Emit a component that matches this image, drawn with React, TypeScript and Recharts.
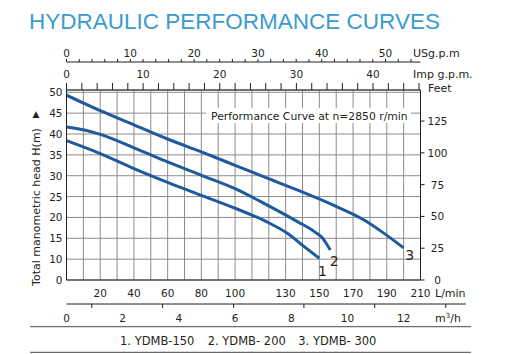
import { LineChart, Line, XAxis, YAxis, CartesianGrid } from "recharts";

// Flow Q in L/min, head H in m (read against the printed left scale)
const flow150 = [0, 20, 40, 60, 80, 100, 118, 131, 141, 150];
const head150 = [38.4, 35.3, 31.7, 28.4, 25.3, 22.2, 19.1, 16.2, 13.0, 10.2];
const flow200 = [0, 10, 20, 40, 60, 80, 100, 118, 137, 147, 152, 154, 156.5];
const head200 = [41.7, 41.0, 39.9, 36.7, 33.3, 30.1, 26.9, 23.2, 19.0, 16.6, 15.0, 13.8, 12.2];
const flow300 = [0, 20, 40, 60, 80, 100, 118, 138, 158, 176, 188, 200];
const head300 = [49.3, 45.6, 42.2, 38.8, 35.7, 32.5, 29.6, 26.4, 23.0, 19.5, 16.3, 12.7];

const modelNames = ["1. YDMB-150", "2. YDMB- 200", "3. YDMB- 300"];
const curveTags = ["1", "2", "3"];

// tick labels
const flowGrid = [0, 10, 20, 30, 40, 50, 60, 70, 80, 90, 100, 110, 120, 130, 140, 150, 160, 170, 180, 190, 200, 210];
const flowLabels = [20, 40, 60, 80, 100, 130, 150, 170, 190, 210];
const headLabels = [0, 10, 15, 20, 25, 30, 35, 40, 45, 50];
const feetLabels = [0, 25, 50, 75, 100, 125];
const usLabels = [0, 10, 20, 30, 40, 50];
const impLabels = [0, 10, 20, 30, 40];
const m3Labels = [0, 2, 4, 6, 8, 10, 12];
const m3Marks = [0.9, 3.42, 5.95, 8.45, 10.97, 13.5];

const LPM_PER_USGPM = 3.785;
const LPM_PER_IMPGPM = 4.546;
const LPM_PER_M3H = 1000 / 60;
const FT_PER_M = 3.2808;
const Q_MAX = 210;
const U_MAX = 45.55;

// printed head scale jumps 0 -> 10, then 5 m per division
const toAxis = (h: number) => (h >= 10 ? h - 5 : h / 2);
const fromAxis = (u: number) => (u >= 5 ? u + 5 : u * 2);

const series = (q: number[], h: number[]) => q.map((v, i) => ({ q: v, u: toAxis(h[i]) }));
const curves = [series(flow150, head150), series(flow200, head200), series(flow300, head300)];
const tagOffsets = [
  [3, 18],
  [4, 16.5],
  [6, 12],
];

const usTicks = Array.from({ length: 28 }, (_, i) => i * 2);
const impTicks = Array.from({ length: 24 }, (_, i) => i * 2);

const INK = "#231f20";
const GRID = "#8c8c8c";
const BLUE = "#1f5a9c";
const FONT = "'DejaVu Sans', sans-serif";

const usTick = ({ x, y, payload }: any) => (
  <g>
    <line x1={x} x2={x} y1={y} y2={y - 3} stroke={INK} />
    {usLabels.includes(payload.value) && (
      <text x={x} y={y - 5.5} textAnchor="middle" fontFamily={FONT} fontSize={10.5} fill={INK}>
        {payload.value}
      </text>
    )}
  </g>
);

const impTick = ({ x, y, payload }: any) => (
  <g>
    <line x1={x} x2={x} y1={y} y2={y - 7} stroke={INK} />
    {impLabels.includes(payload.value) && (
      <text x={x} y={y - 12} textAnchor="middle" fontFamily={FONT} fontSize={10.5} fill={INK}>
        {payload.value}
      </text>
    )}
  </g>
);

const flowTick = ({ x, y, payload }: any) =>
  flowLabels.includes(payload.value) ? (
    <text x={x} y={y + 17} textAnchor="middle" fontFamily={FONT} fontSize={10.5} fill={INK}>
      {payload.value}
    </text>
  ) : (
    <g />
  );

const m3Tick = ({ x, y, payload }: any) =>
  m3Labels.includes(payload.value) ? (
    <text x={x} y={y + 17.5} textAnchor="middle" fontFamily={FONT} fontSize={10.5} fill={INK}>
      {payload.value}
    </text>
  ) : (
    <line x1={x} x2={x} y1={y} y2={y + 4} stroke={INK} />
  );

const headTick = ({ x, y, payload }: any) => (
  <text x={x - 4} y={y + 4} textAnchor="end" fontFamily={FONT} fontSize={10.5} fill={INK}>
    {fromAxis(payload.value)}
  </text>
);

const feetTick = ({ x, y, payload }: any) => (
  <g>
    <line x1={x} x2={x + 4} y1={y} y2={y} stroke={INK} />
    <text x={x + 17} y={y + 4} textAnchor="middle" fontFamily={FONT} fontSize={10.5} fill={INK}>
      {payload.value}
    </text>
  </g>
);

const tagDot = (k: number) => (p: any) =>
  p.index === curves[k].length - 1 ? (
    <text
      key={p.index}
      x={p.cx + tagOffsets[k][0]}
      y={p.cy + tagOffsets[k][1]}
      textAnchor="middle"
      fontFamily={FONT}
      fontSize={14}
      fill={INK}
    >
      {curveTags[k]}
    </text>
  ) : (
    <g key={p.index} />
  );

export default function App() {
  return (
    <div style={{ position: "absolute", left: 0, top: 0, width: 517, height: 354, background: "#fff" }}>
      <LineChart width={517} height={354} margin={{ top: 34, right: 0, bottom: 28, left: 0 }}>
        <CartesianGrid xAxisId="lmin" yAxisId="m" stroke={GRID} />
        <XAxis
          xAxisId="imp"
          dataKey="q"
          orientation="top"
          type="number"
          domain={[0, Q_MAX / LPM_PER_IMPGPM]}
          allowDataOverflow
          ticks={impTicks}
          interval={0}
          height={28}
          tickSize={0}
          tickMargin={0}
          tickLine={false}
          tick={impTick}
          axisLine={{ stroke: INK }}
        />
        <XAxis
          xAxisId="us"
          dataKey="q"
          orientation="top"
          type="number"
          domain={[0, Q_MAX / LPM_PER_USGPM]}
          allowDataOverflow
          ticks={usTicks}
          interval={0}
          height={28}
          tickSize={0}
          tickMargin={0}
          tickLine={false}
          tick={usTick}
          axisLine={{ stroke: INK }}
        />
        <XAxis
          xAxisId="lmin"
          dataKey="q"
          orientation="bottom"
          type="number"
          domain={[0, Q_MAX]}
          allowDataOverflow
          ticks={flowGrid}
          interval={0}
          height={24}
          tickSize={0}
          tickMargin={0}
          tickLine={false}
          tick={flowTick}
          axisLine={{ stroke: INK }}
        />
        <XAxis
          xAxisId="m3"
          dataKey="q"
          orientation="bottom"
          type="number"
          domain={[0, Q_MAX / LPM_PER_M3H]}
          allowDataOverflow
          ticks={[...m3Labels, ...m3Marks]}
          interval={0}
          height={22}
          tickSize={0}
          tickMargin={0}
          tickLine={false}
          tick={m3Tick}
          axisLine={{ stroke: INK }}
        />
        <YAxis
          yAxisId="m"
          type="number"
          domain={[0, U_MAX]}
          allowDataOverflow
          ticks={headLabels.map(toAxis)}
          interval={0}
          width={66.5}
          tickSize={0}
          tickMargin={0}
          tickLine={false}
          tick={headTick}
          axisLine={{ stroke: INK }}
        />
        <YAxis
          yAxisId="ft"
          orientation="right"
          type="number"
          domain={[0, U_MAX * FT_PER_M]}
          allowDataOverflow
          ticks={feetLabels}
          interval={0}
          width={96.5}
          tickSize={0}
          tickMargin={0}
          tickLine={false}
          tick={feetTick}
          axisLine={{ stroke: INK }}
        />
        {curves.map((d, k) => (
          <Line
            key={modelNames[k]}
            name={modelNames[k]}
            data={d}
            xAxisId="lmin"
            yAxisId="m"
            dataKey="u"
            type="monotone"
            stroke={BLUE}
            strokeWidth={3}
            dot={tagDot(k)}
            activeDot={false}
            isAnimationActive={false}
          />
        ))}

        <text x={29} y={29} fontFamily="'Liberation Sans', Arial, sans-serif" fontSize={22.5} fill="#3a9bd0">
          HYDRAULIC PERFORMANCE CURVES
        </text>
        <text x={413} y={57} fontFamily={FONT} fontSize={11} fill={INK}>USg.p.m</text>
        <text x={413} y={78} fontFamily={FONT} fontSize={11} fill={INK}>Imp g.p.m.</text>
        <text x={428} y={91.5} fontFamily={FONT} fontSize={11} fill={INK}>Feet</text>
        <text x={435} y={296.5} fontFamily={FONT} fontSize={11} fill={INK}>L/min</text>
        <text x={435} y={321.5} fontFamily={FONT} fontSize={11} fill={INK}>
          m<tspan fontSize={7} dy={-4}>3</tspan>
          <tspan dy={4}>/h</tspan>
        </text>
        <line x1={420.5} x2={466} y1={304} y2={304} stroke={INK} />

        <rect x={206} y={108} width={205} height={15} fill="#fff" />
        <text x={211} y={119.5} fontFamily={FONT} fontSize={10.8} fill={INK}>
          Performance Curve at n=2850 r/min
        </text>

        <text x={36} y={116.5} textAnchor="middle" fontFamily={FONT} fontSize={9} fill={INK}>▲</text>
        <text
          transform="translate(39.5,207) rotate(-90)"
          textAnchor="middle"
          fontFamily={FONT}
          fontSize={11}
          fill={INK}
        >
          Total manometric head H(m)
        </text>

        <line x1={30} x2={471} y1={326.7} y2={326.7} stroke="#6e6e6e" strokeWidth={1.2} />
        <line x1={30} x2={471} y1={352.3} y2={352.3} stroke="#6e6e6e" strokeWidth={1.2} />
        {modelNames.map((n, i) => (
          <text key={n} x={[120, 207.7, 298.3][i]} y={345} fontFamily={FONT} fontSize={11.5} fill={INK} style={{ whiteSpace: "pre" }}>
            {n}
          </text>
        ))}
      </LineChart>
    </div>
  );
}
